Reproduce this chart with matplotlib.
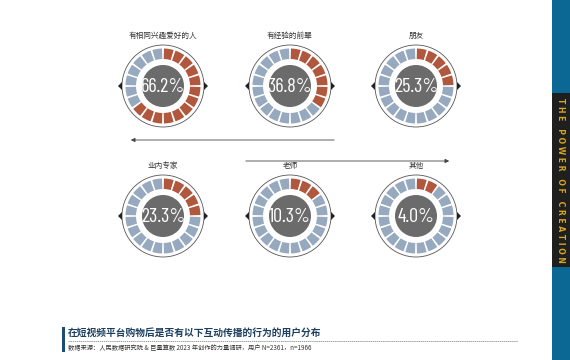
import matplotlib
matplotlib.use('Agg')
import matplotlib.pyplot as plt
from matplotlib.patches import Wedge, Circle, Polygon, Rectangle

plt.rcParams['font.family'] = ['Noto Sans CJK SC', 'DejaVu Sans']

# data
labels = ['有相同兴趣爱好的人', '有经验的前辈', '朋友', '业内专家', '老师', '其他']
values = [66.2, 36.8, 25.3, 23.3, 10.3, 4.0]
red_segments = [13, 7, 5, 5, 3, 2]
n_segments = 20

title = '在短视频平台购物后是否有以下互动传播的行为的用户分布'
source = '数据来源：人民数据研究院 & 巨量算数 2023 年创作的力量调研，用户 N=2361，n=1966'
side_text = 'THE POWER OF CREATION'

RED = '#b0573d'
BLUE = '#97a9be'
GREY = '#6b6b6b'

fig = plt.figure(figsize=(5.7, 3.6), dpi=100)
ax = fig.add_axes([0, 0, 1, 1])
ax.set_xlim(0, 570)
ax.set_ylim(360, 0)
ax.set_aspect('equal')
ax.axis('off')

xs = [163, 290, 416]
ys = [86, 216]

for i, (lab, val, nred) in enumerate(zip(labels, values, red_segments)):
    cx = xs[i % 3]
    cy = ys[i // 3]
    ax.add_patch(Circle((cx, cy), 41, fill=False, ec='#555555', lw=0.6))
    step = 360 / n_segments
    for k in range(n_segments):
        # clockwise from 12 o'clock (y axis is flipped)
        a1 = -90 + k * step + 1.5
        a2 = -90 + (k + 1) * step - 1.5
        col = RED if k < nred else BLUE
        ax.add_patch(Wedge((cx, cy), 37.5, a1, a2, width=10.5, fc=col, ec='none'))
    ax.add_patch(Circle((cx, cy), 21, fc=GREY, ec='none'))
    for side in (-1, 1):
        tip = cx + side * 45
        ax.add_patch(Polygon([(tip, cy), (tip - side * 4, cy - 4), (tip - side * 4, cy + 4)],
                             closed=True, fc='#222222', ec='none'))
    ax.text(cx, cy + 0.5, f'{val:.1f}%', ha='center', va='center', color='white',
            fontsize=14.5, family=['Barlow Condensed', 'DejaVu Sans'])
    ax.text(cx, cy - 50, lab, ha='center', va='center', fontsize=5.5, color='#333333')

# arrows between rows
ax.annotate('', xy=(128, 140), xytext=(337, 140),
            arrowprops=dict(arrowstyle='-|>', color='#444444', lw=0.6, mutation_scale=6))
ax.annotate('', xy=(452, 161), xytext=(243, 161),
            arrowprops=dict(arrowstyle='-|>', color='#444444', lw=0.6, mutation_scale=6))

# side band
ax.add_patch(Rectangle((552, 0), 18, 360, fc='#0b6894', ec='none'))
ax.add_patch(Rectangle((552, 93), 18, 174, fc='#1f1f1f', ec='none'))
spaced = '   '.join(' '.join(w) for w in side_text.split(' '))
ax.text(561, 180, spaced, rotation=-90, ha='center', va='center',
        color='#d9a521', fontsize=5.5, fontweight='bold', family='DejaVu Sans')

# footer
ax.add_patch(Rectangle((62, 327), 2.5, 25, fc='#1d4d73', ec='none'))
ax.text(68, 333, title, ha='left', va='center', fontsize=7, fontweight='bold', color='#1d3f5e')
ax.plot([68, 518], [341, 341], color='#777777', lw=0.5, ls=(0, (2, 1)))
ax.text(68, 348, source, ha='left', va='center', fontsize=4.5, color='#333333')

fig.savefig('out.png', dpi=100)
